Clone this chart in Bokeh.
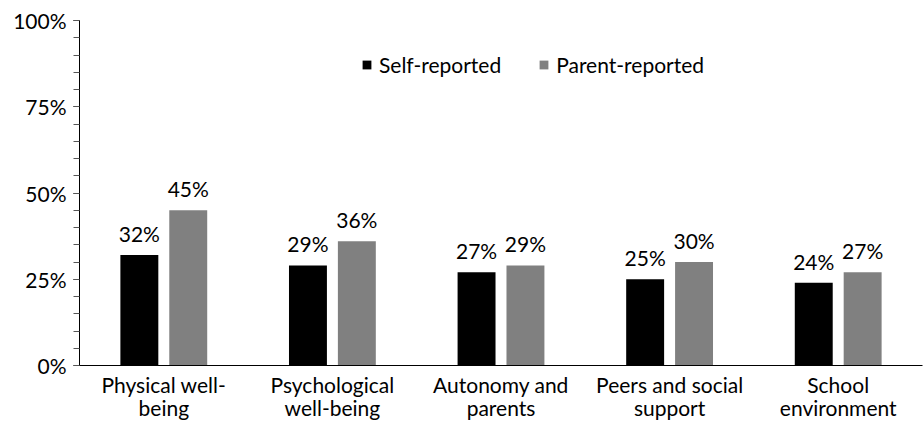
from bokeh.plotting import figure
from bokeh.models import (ColumnDataSource, FactorRange, Range1d, FixedTicker,
                          NumeralTickFormatter, Legend, LegendItem)
from bokeh.transform import dodge
from bokeh.core.properties import value
from bokeh.embed import file_html
from bokeh.resources import INLINE

categories = ["Physical well-\nbeing", "Psychological\nwell-being", "Autonomy and\nparents",
              "Peers and social\nsupport", "School\nenvironment"]
self_reported = [0.32, 0.29, 0.27, 0.25, 0.24]
parent_reported = [0.45, 0.36, 0.29, 0.30, 0.27]
self_labels = ["32%", "29%", "27%", "25%", "24%"]
parent_labels = ["45%", "36%", "29%", "30%", "27%"]
y_ticks = [0, 0.25, 0.5, 0.75, 1.0]

FONT = "Lato"
FS = "21px"

src = ColumnDataSource(dict(cat=categories, s=self_reported, p=parent_reported,
                            sl=self_labels, pl=parent_labels))

p = figure(width=924, height=423, x_range=FactorRange(*categories), y_range=Range1d(0, 1),
           output_backend="svg", toolbar_location=None,
           min_border_left=79, min_border_right=2, min_border_top=20, min_border_bottom=57)
p.xgrid.visible = False
p.ygrid.visible = False
p.outline_line_color = None

r1 = p.vbar(x=dodge("cat", -0.145, range=p.x_range), top="s", width=0.225, source=src,
            fill_color="#000000", line_color=None)
r2 = p.vbar(x=dodge("cat", 0.145, range=p.x_range), top="p", width=0.225, source=src,
            fill_color="#808080", line_color=None)

p.text(x=dodge("cat", -0.145, range=p.x_range), y="s", text="sl", source=src,
       text_align="center", text_baseline="bottom", y_offset=-9,
       text_font=value(FONT), text_font_size=FS, text_color="#000000")
p.text(x=dodge("cat", 0.145, range=p.x_range), y="p", text="pl", source=src,
       text_align="center", text_baseline="bottom", y_offset=-9,
       text_font=value(FONT), text_font_size=FS, text_color="#000000")

ya = p.yaxis[0]
ya.ticker = FixedTicker(ticks=y_ticks, minor_ticks=[i * 0.05 for i in range(21)])
ya.formatter = NumeralTickFormatter(format="0%")
ya.major_label_text_font = FONT
ya.major_label_text_font_size = FS
ya.major_label_text_color = "#000000"
ya.major_tick_out = 6
ya.major_tick_in = 0
ya.minor_tick_out = 6
ya.minor_tick_in = 0
ya.axis_line_color = "#000000"
ya.major_tick_line_color = "#000000"
ya.minor_tick_line_color = "#555555"
ya.major_label_standoff = 7

xa = p.xaxis[0]
xa.major_tick_line_color = None
xa.minor_tick_line_color = None
xa.axis_line_color = "#000000"
xa.major_label_text_font = FONT
xa.major_label_text_font_size = FS
xa.major_label_text_color = "#000000"
xa.major_label_text_line_height = 0.95
xa.major_label_standoff = 0

legend = Legend(items=[LegendItem(label="Self-reported", renderers=[r1]),
                       LegendItem(label="Parent-reported", renderers=[r2])],
                orientation="horizontal", location=(282, 288),
                glyph_width=11, glyph_height=11, label_standoff=7, spacing=37,
                padding=0, margin=0, border_line_color=None, background_fill_alpha=0,
                label_text_font=FONT, label_text_font_size=FS, label_text_color="#000000")
p.add_layout(legend, "center")

open("out.html", "w").write(file_html(p, INLINE))
